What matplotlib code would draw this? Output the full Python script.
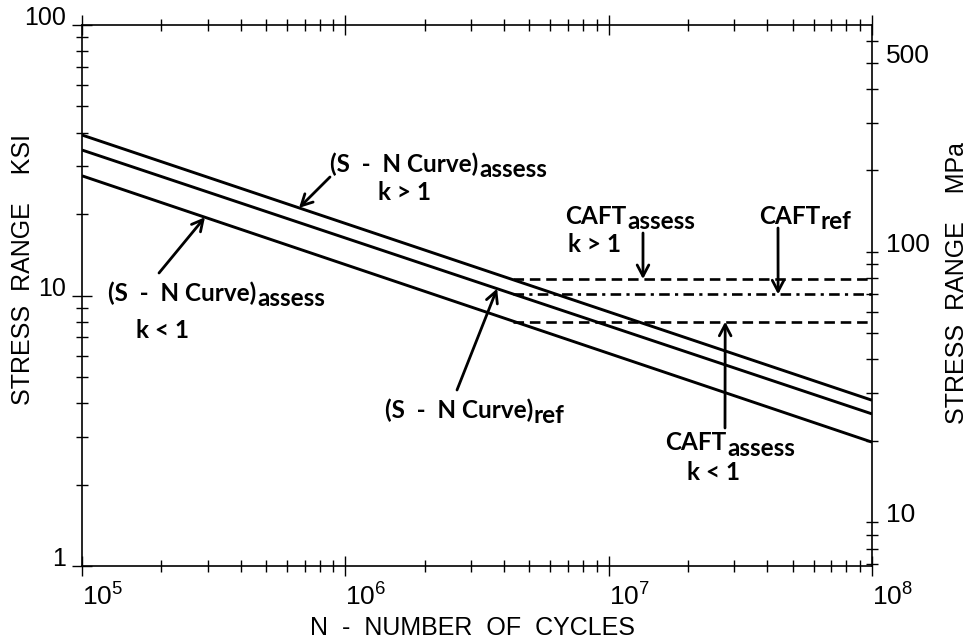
import numpy as np
import matplotlib.pyplot as plt
from matplotlib.ticker import NullFormatter, LogLocator

KSI_TO_MPA = 6.895

# S-N curves: stress range (ksi) at the two ends N = 1e5 and N = 1e8
n_ends = [1e5, 1e8]
sn_assess_hi = [39.2, 4.1]    # (S-N Curve)assess, k > 1
sn_ref = [34.5, 3.65]         # (S-N Curve)ref
sn_assess_lo = [27.7, 2.87]   # (S-N Curve)assess, k < 1

# constant amplitude fatigue thresholds (ksi), drawn from N = 4.33e6 on
caft_n = [4.33e6, 1e8]
caft_assess_hi = 11.5
caft_ref = 10.1
caft_assess_lo = 8.0

x_ticks = [1e5, 1e6, 1e7, 1e8]
x_labels = [r'$\mathregular{10^{5}}$', r'$\mathregular{10^{6}}$',
            r'$\mathregular{10^{7}}$', r'$\mathregular{10^{8}}$']
ksi_ticks = [1, 10, 100]
mpa_ticks = [10, 100, 500]

TICK_FONT = 'Liberation Sans'
NOTE_FONT = 'Lato'
H = 642


def on_curve(n, curve):
    # point on a straight log-log line
    ly = np.interp(np.log10(n), np.log10(n_ends), np.log10(curve))
    return 10 ** ly


def fp(x, y):
    # figure pixels, measured from the top left
    return (x, H - y)


fig = plt.figure(figsize=(9.69, 6.42), dpi=100)
ax = fig.add_axes([82 / 969, 1 - 566 / 642, 790 / 969, 541 / 642])
ax.set_xscale('log')
ax.set_yscale('log')
ax.set_xlim(1e5, 1e8)
ax.set_ylim(1, 100)

for curve in (sn_assess_hi, sn_ref, sn_assess_lo):
    ax.plot(n_ends, curve, color='black', lw=2.1, solid_capstyle='butt')

ax.plot(caft_n, [caft_assess_hi] * 2, color='black', lw=1.9, ls=(0, (4.0, 2.2)))
ax.plot(caft_n, [caft_ref] * 2, color='black', lw=1.9, ls=(0, (4.0, 2.0, 1.2, 2.0)))
ax.plot(caft_n, [caft_assess_lo] * 2, color='black', lw=1.9, ls=(0, (4.0, 2.2)))

# axes, ticks
for s in ax.spines.values():
    s.set_linewidth(1.2)
ax.set_xticks(x_ticks)
ax.set_xticklabels(x_labels, ha='left', fontsize=19, family=TICK_FONT)
ax.set_yticks(ksi_ticks)
ax.set_yticklabels(['1', '10', '100'], va='baseline', fontsize=18, family=TICK_FONT)
ax.xaxis.set_minor_locator(LogLocator(base=10, subs=np.arange(2, 10)))
ax.yaxis.set_minor_locator(LogLocator(base=10, subs=np.arange(2, 10)))
ax.xaxis.set_minor_formatter(NullFormatter())
ax.yaxis.set_minor_formatter(NullFormatter())
ax.tick_params(which='both', direction='inout', top=True, right=False, width=1.0)
ax.tick_params(which='major', length=15)
ax.tick_params(which='minor', length=8)
ax.tick_params(axis='x', which='major', pad=5)
ax.tick_params(axis='y', which='major', pad=4)

ax2 = ax.twinx()
ax2.set_yscale('log')
ax2.set_ylim(1 * KSI_TO_MPA, 100 * KSI_TO_MPA)
ax2.set_yticks(mpa_ticks)
ax2.set_yticklabels(['10', '100', '500'], va='baseline', fontsize=19, family=TICK_FONT)
ax2.yaxis.set_minor_locator(LogLocator(base=10, subs=np.arange(2, 10)))
ax2.yaxis.set_minor_formatter(NullFormatter())
ax2.tick_params(which='both', direction='inout', width=1.0, length=8, pad=6)
for s in ax2.spines.values():
    s.set_visible(False)

fig.text(23 / 969, 1 - 270 / H, 'STRESS  RANGE    KSI', rotation=90,
         ha='center', va='center', fontsize=18, family=TICK_FONT)
fig.text(957 / 969, 1 - 283 / H, 'STRESS  RANGE    MPa', rotation=90,
         ha='center', va='center', fontsize=18, family=TICK_FONT)
fig.text(473 / 969, 1 - 628 / H, 'N  -  NUMBER  OF  CYCLES',
         ha='center', va='center', fontsize=18, family=TICK_FONT)

# notes: main text, subscript right after it, optional k line below
note_kw = dict(fontsize=17.5, fontweight='bold', family=NOTE_FONT, color='black')
SN = '(S  -  N Curve)'


def note(x, yc, main, sub, k=None, kx=None, ky=None):
    t = ax.annotate(main, xy=fp(x, yc), xycoords='figure pixels',
                    ha='left', va='center', **note_kw)
    ax.annotate(sub, xy=(1, 0), xycoords=t, xytext=(0.5, -4),
                textcoords='offset points', ha='left', va='bottom', **note_kw)
    if k:
        ax.annotate(k, xy=fp(kx, ky), xycoords='figure pixels',
                    ha='left', va='center', **note_kw)


note(330, 164, SN, 'assess', 'k > 1', 378, 193)
note(108, 293, SN, 'assess', 'k < 1', 136, 330)
note(385, 410, SN, 'ref')
note(565, 216, 'CAFT', 'assess', 'k > 1', 568, 245)
note(759, 216, 'CAFT', 'ref')
note(665, 443, 'CAFT', 'assess', 'k < 1', 687, 472)

arrow_kw = dict(arrowstyle='->, head_length=0.8, head_width=0.42',
                color='black', lw=2.0, shrinkA=0, shrinkB=0)


def arrow(head, tail):
    ax.annotate('', xy=head, xycoords='data', xytext=fp(*tail),
                textcoords='figure pixels', arrowprops=arrow_kw)


arrow((6.67e5, on_curve(6.67e5, sn_assess_hi)), (330, 177))
arrow((2.93e5, on_curve(2.93e5, sn_assess_lo)), (159, 273))
arrow((3.77e6, on_curve(3.77e6, sn_ref)), (457, 390))
arrow((1.35e7, caft_assess_hi), (643, 233))
arrow((4.4e7, caft_ref), (778, 228))
arrow((2.77e7, caft_assess_lo), (725, 428))

fig.savefig('out.png', dpi=100)
